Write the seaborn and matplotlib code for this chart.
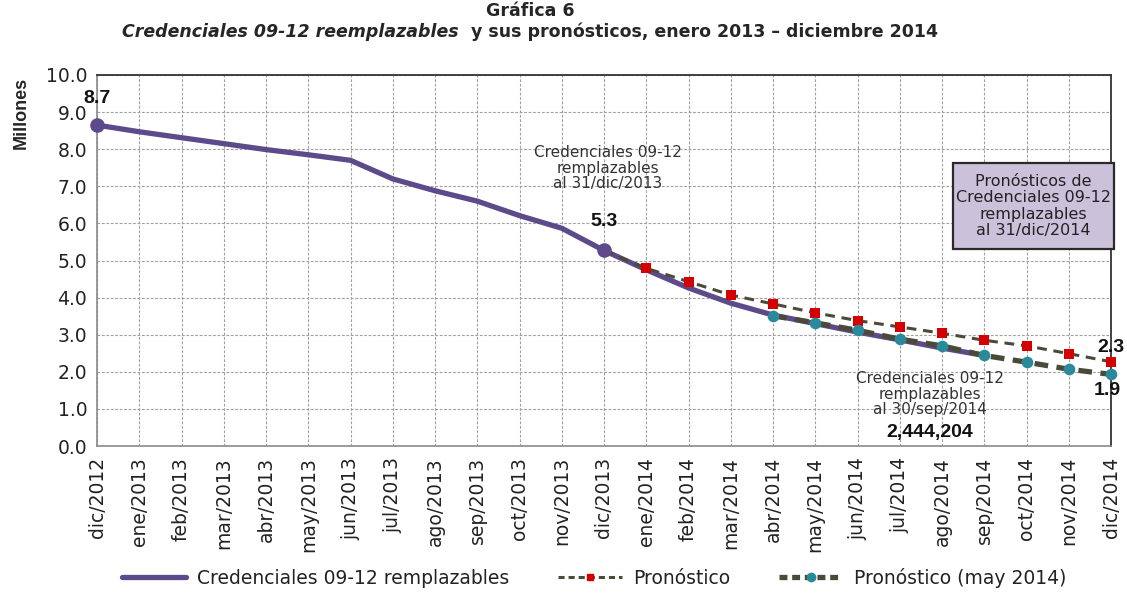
import numpy as np
import pandas as pd
import matplotlib
matplotlib.use("Agg")
import matplotlib.pyplot as plt
import seaborn as sns
from matplotlib.lines import Line2D
from matplotlib.patches import FancyBboxPatch

# ---------------- data ----------------
months = ["dic/2012", "ene/2013", "feb/2013", "mar/2013", "abr/2013", "may/2013",
          "jun/2013", "jul/2013", "ago/2013", "sep/2013", "oct/2013", "nov/2013",
          "dic/2013", "ene/2014", "feb/2014", "mar/2014", "abr/2014", "may/2014",
          "jun/2014", "jul/2014", "ago/2014", "sep/2014", "oct/2014", "nov/2014",
          "dic/2014"]
# Credenciales 09-12 remplazables (dic/2012 .. sep/2014), millones
real_vals = [8.65, 8.47, 8.31, 8.15, 7.99, 7.85, 7.70, 7.20, 6.88, 6.60, 6.21,
             5.87, 5.27, 4.75, 4.26, 3.85, 3.53, 3.30, 3.07, 2.86, 2.64, 2.44]
# Pronóstico (dic/2013 .. dic/2014)
pron_vals = [5.27, 4.79, 4.43, 4.07, 3.83, 3.59, 3.38, 3.21, 3.04, 2.85, 2.70,
             2.49, 2.27]
# Pronóstico (may 2014) (abr/2014 .. dic/2014)
pron_may_vals = [3.51, 3.32, 3.12, 2.88, 2.70, 2.44, 2.26, 2.07, 1.93]

series_names = ["Credenciales 09-12 remplazables", "Pronóstico", "Pronóstico (may 2014)"]

df_real = pd.DataFrame({"x": np.arange(len(real_vals)), "y": real_vals})
df_pron = pd.DataFrame({"x": np.arange(12, 12 + len(pron_vals)), "y": pron_vals})
df_may = pd.DataFrame({"x": np.arange(16, 16 + len(pron_may_vals)), "y": pron_may_vals})

# ---------------- style ----------------
sns.set_style("white")
plt.rcParams["font.family"] = ["Liberation Sans", "DejaVu Sans"]

PURPLE = "#5c4a8b"
OLIVE = "#4b4a38"
RED = "#d40000"
TEAL = "#2a8a9c"

W, H = 1127, 599
fig = plt.figure(figsize=(W / 100, H / 100), dpi=100)
L, R, T, B = 97, 1111, 75, 446
ax = fig.add_axes([L / W, 1 - B / H, (R - L) / W, (B - T) / H])

# lines
sns.lineplot(data=df_pron, x="x", y="y", ax=ax, color=OLIVE, lw=2.2,
             linestyle=(0, (3.2, 2.2)), zorder=3)
sns.lineplot(data=df_real, x="x", y="y", ax=ax, color=PURPLE, lw=3.8,
             zorder=2, solid_capstyle="round")
sns.lineplot(data=df_may, x="x", y="y", ax=ax, color=OLIVE, lw=3.8,
             linestyle=(0, (2.6, 1.6)), zorder=4)

# markers
sns.scatterplot(data=df_pron.iloc[1:], x="x", y="y", ax=ax, color=RED, marker="s",
                s=42, edgecolor=RED, linewidth=0, zorder=6, clip_on=False)
sns.scatterplot(data=df_may, x="x", y="y", ax=ax, color=TEAL, marker="o",
                s=70, edgecolor=TEAL, linewidth=0, zorder=6, clip_on=False)
sns.scatterplot(data=df_real.iloc[[0, 12]], x="x", y="y", ax=ax, color=PURPLE,
                marker="o", s=110, edgecolor=PURPLE, linewidth=0, zorder=7,
                clip_on=False)

# axes
ax.set_xlim(0, len(months) - 1)
ax.set_ylim(0, 10)
ax.set_xticks(np.arange(len(months)))
ax.set_xticklabels(months, rotation=90, fontsize=13.5,
                   fontfamily="DejaVu Sans", color="#222222")
ax.set_yticks(np.arange(0, 11, 1))
ax.set_yticklabels([f"{v:.1f}" for v in range(0, 11)], fontsize=13.5,
                   fontfamily="DejaVu Sans", color="#222222")
ax.set_xlabel("")
ax.set_ylabel("")
ax.tick_params(axis="both", which="both", direction="out", length=4, width=0.8,
               color="#888888", pad=3)
ax.tick_params(axis="x", pad=4)
ax.grid(True, color="#a0a0a0", linestyle=(0, (2.5, 1.5)), lw=0.8)
ax.set_axisbelow(True)
for side in ["left", "bottom"]:
    ax.spines[side].set_color("#8a8a8a")
    ax.spines[side].set_linewidth(1.2)
for side in ["top", "right"]:
    ax.spines[side].set_color("#333333")
    ax.spines[side].set_linewidth(1.3)

# y label
fig.text(21 / W, 1 - 113 / H, "Millones", rotation=90, ha="center", va="center",
         fontsize=13, fontweight="bold")

# value labels
lab_kw = dict(textcoords="offset pixels", ha="center", va="center",
              fontsize=14, fontweight="bold", color="#111111")
ax.annotate("8.7", xy=(0, real_vals[0]), xytext=(0, 27), **lab_kw)
ax.annotate("5.3", xy=(12, real_vals[12]), xytext=(0, 29), **lab_kw)
ax.annotate("2.3", xy=(24, pron_vals[-1]), xytext=(0, 14), **lab_kw)
ax.annotate("1.9", xy=(24, pron_may_vals[-1]), xytext=(-4, -16), **lab_kw)

# text annotations
ann_kw = dict(ha="center", va="center", fontsize=11, color="#333333",
              linespacing=1.05, fontfamily="DejaVu Sans")
fig.text(608 / W, 1 - 168 / H, "Credenciales 09-12\nremplazables\nal 31/dic/2013",
         **ann_kw)
fig.text(930 / W, 1 - 394 / H, "Credenciales 09-12\nremplazables\nal 30/sep/2014",
         **ann_kw)
fig.text(930 / W, 1 - 433 / H, "2,444,204", ha="center", va="center",
         fontsize=14, fontweight="bold", color="#111111")

# box
bx0, bx1, by0, by1 = 953, 1114, 163, 249
box = FancyBboxPatch((bx0 / W, 1 - by1 / H), (bx1 - bx0) / W, (by1 - by0) / H,
                     boxstyle="square,pad=0", transform=fig.transFigure,
                     facecolor="#cbc1db", edgecolor="#2a2a2a", lw=1.6, zorder=10)
fig.patches.append(box)
fig.text((bx0 + bx1) / 2 / W, 1 - (by0 + by1) / 2 / H,
         "Pronósticos de\nCredenciales 09-12\nremplazables\nal 31/dic/2014",
         ha="center", va="center", fontsize=11.5, color="#222222",
         linespacing=1.1, zorder=11, fontfamily="DejaVu Sans")

# title
fig.text(530 / W, 1 - 11 / H, "Gráfica 6", ha="center", va="center",
         fontsize=12.5, fontweight="bold", fontfamily="DejaVu Sans")
renderer = fig.canvas.get_renderer()
t1 = fig.text(0, 1 - 32 / H, "Credenciales 09-12 reemplazables", ha="left",
              va="center", fontsize=12.5, fontweight="bold", fontstyle="italic",
              fontfamily="DejaVu Sans")
t2 = fig.text(0, 1 - 32 / H, "  y sus pronósticos, enero 2013 – diciembre 2014",
              ha="left", va="center", fontsize=12.5, fontweight="bold",
              fontfamily="DejaVu Sans")
w1 = t1.get_window_extent(renderer).width
w2 = t2.get_window_extent(renderer).width
start = 530 - (w1 + w2) / 2
t1.set_x(start / W)
t2.set_x((start + w1) / W)

# legend
handles = [
    Line2D([], [], color=PURPLE, lw=3.8),
    Line2D([], [], color=OLIVE, lw=2.2, linestyle=(0, (2.0, 1.3)), marker="s",
           markersize=5, markerfacecolor=RED, markeredgecolor=RED, markevery=[1]),
    Line2D([], [], color=OLIVE, lw=3.8, linestyle=(0, (1.5, 0.9)), marker="o",
           markersize=6, markerfacecolor=TEAL, markeredgecolor=TEAL, markevery=[1]),
]
for h in handles[1:]:
    h.set_xdata([0, 0.5, 1])
    h.set_ydata([0, 0, 0])
leg = fig.legend(handles, series_names, loc="center", ncol=3,
                 bbox_to_anchor=(594 / W, 1 - 578 / H), frameon=False,
                 prop={"family": "DejaVu Sans", "size": 13.5},
                 handlelength=3.4, handletextpad=0.6, columnspacing=2.6)
for t in leg.get_texts():
    t.set_color("#222222")

fig.savefig("out.png", dpi=100)
